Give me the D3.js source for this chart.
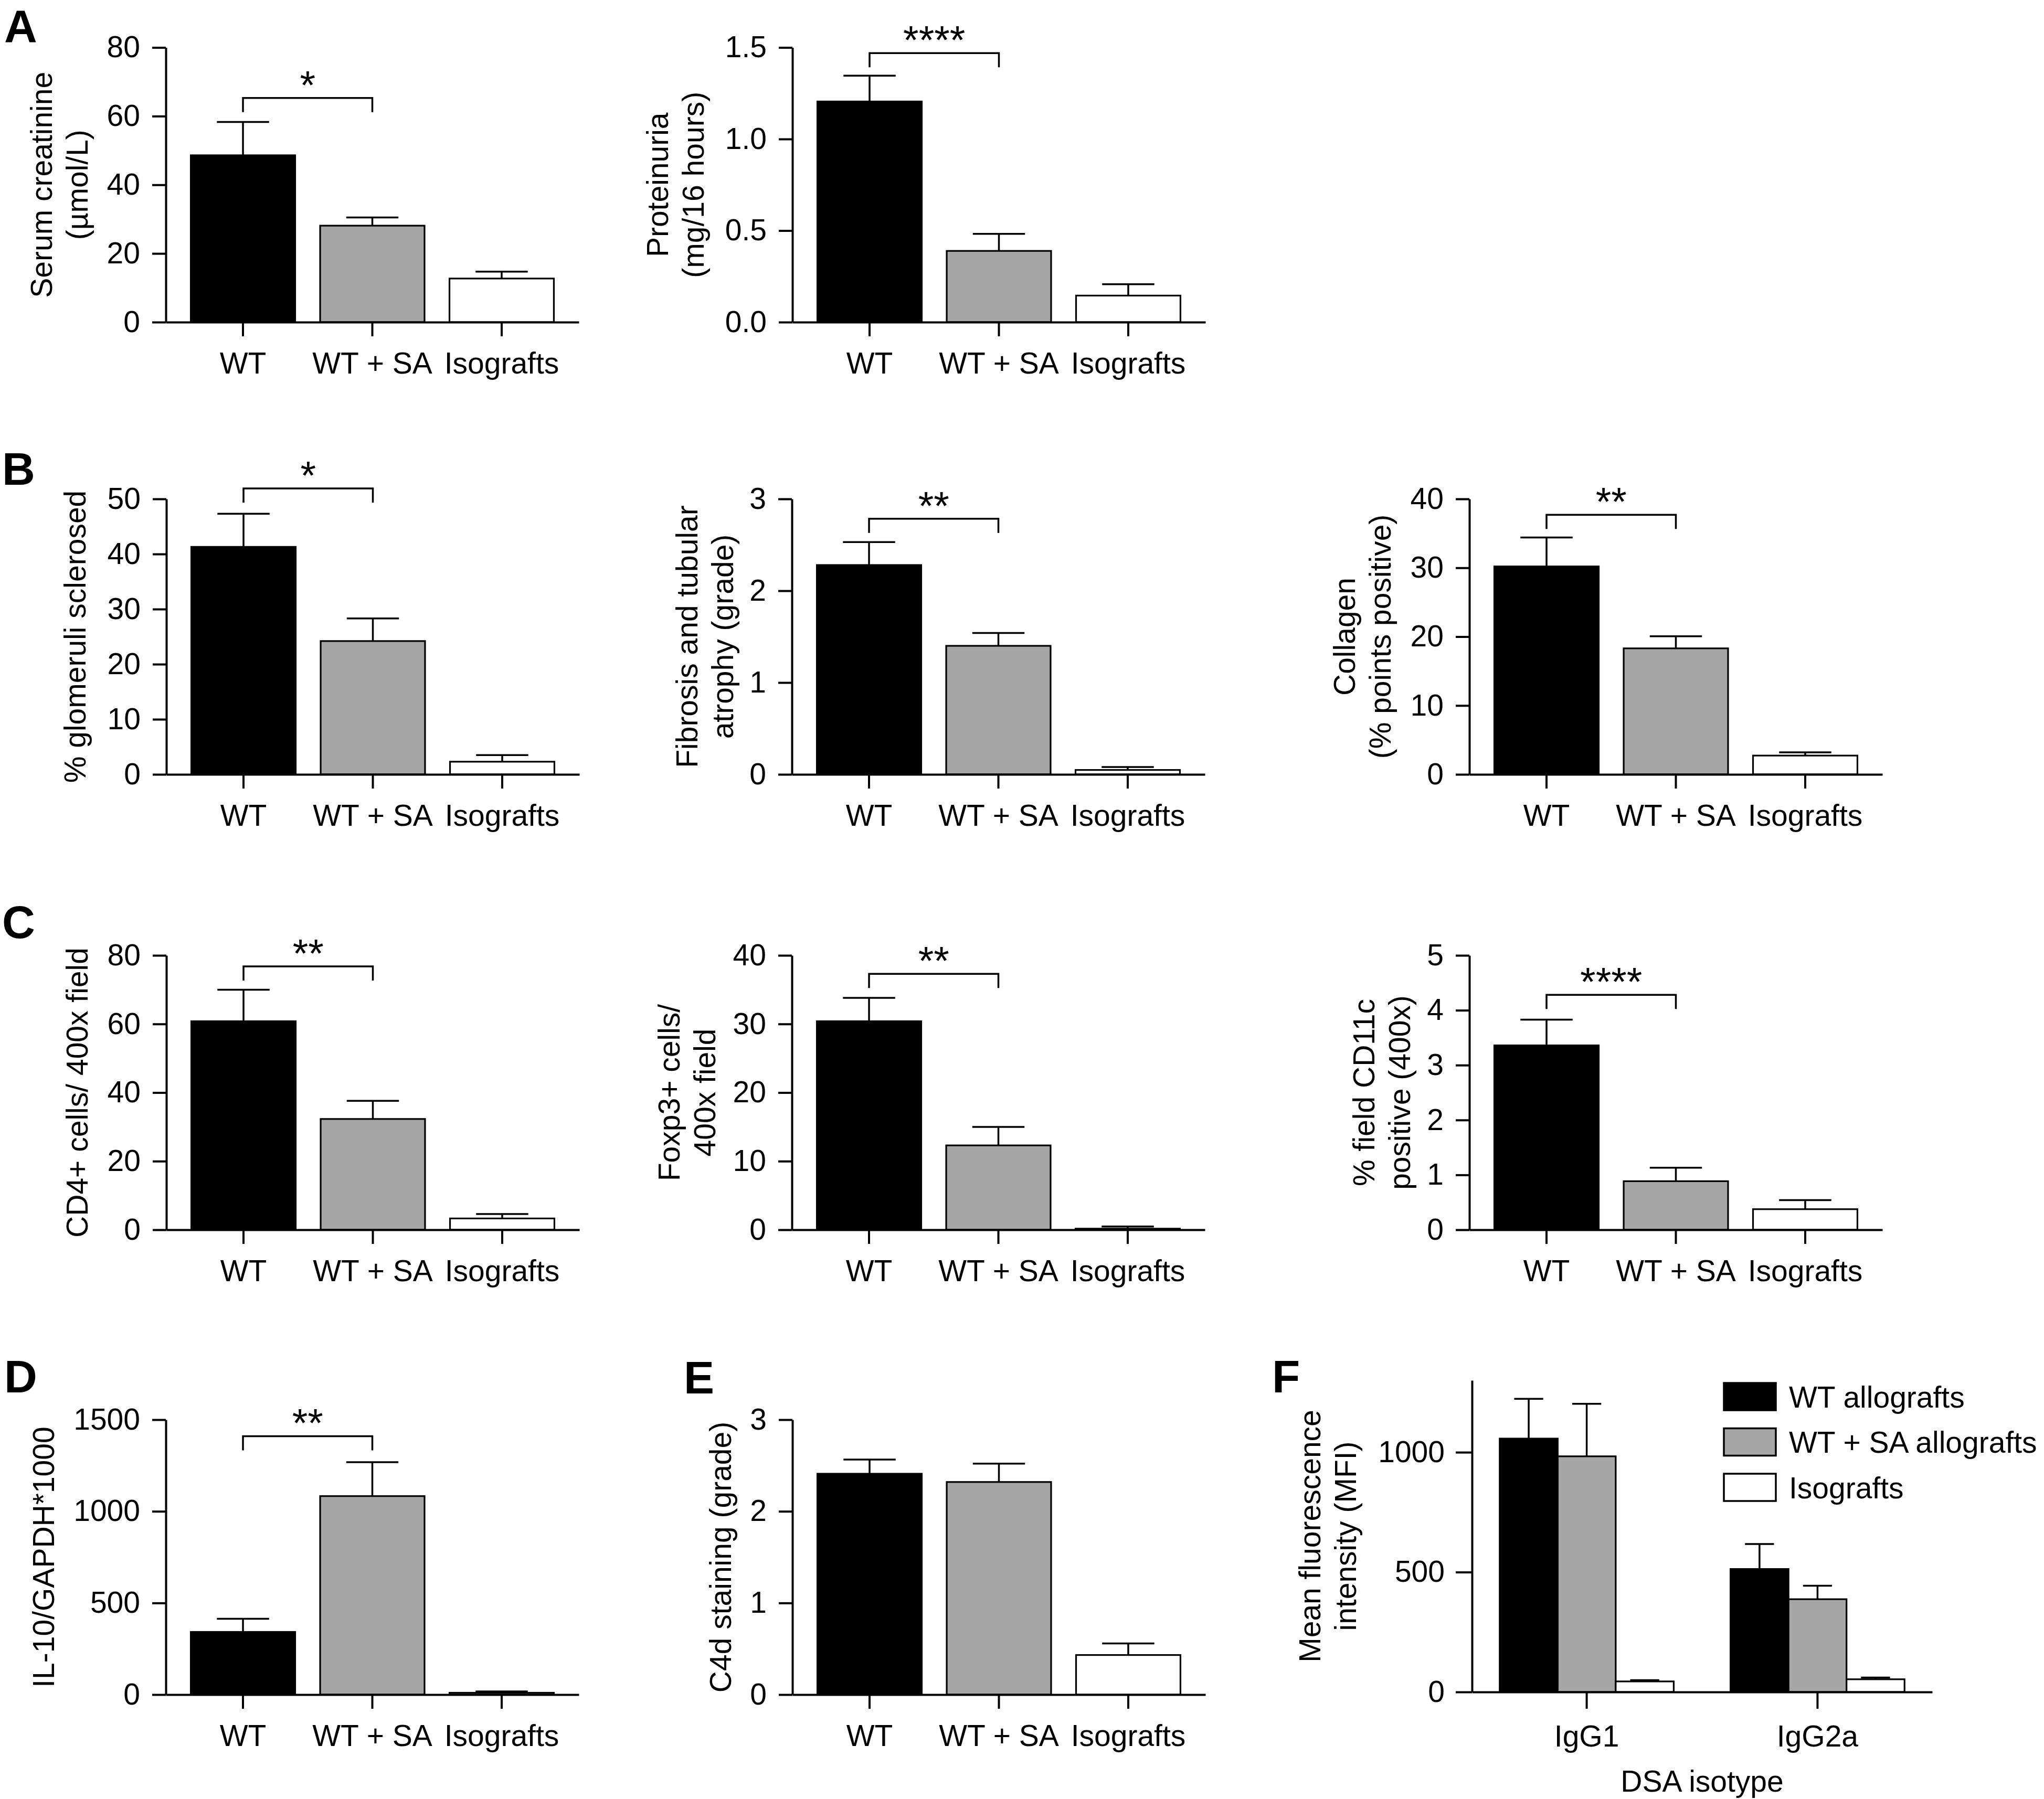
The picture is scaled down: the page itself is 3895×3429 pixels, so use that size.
<!DOCTYPE html>
<html><head><meta charset="utf-8">
<script src="https://cdn.jsdelivr.net/npm/d3@7"></script>
<style>body{margin:0;background:#fff}</style>
</head><body>
<svg id="chart" width="3895" height="3429"></svg>
<script>
// ---------- DATA ----------
const groups = ["WT", "WT + SA", "Isografts"];
const barFills = ["#000000", "#a6a6a6", "#ffffff"];

const creatinine = [48.6, 28.1, 12.7];
const creatinineErr = [9.7, 2.4, 2.0];
const creatinineTicks = [0, 20, 40, 60, 80];

const proteinuria = [1.205, 0.389, 0.145];
const proteinuriaErr = [0.141, 0.093, 0.062];
const proteinuriaTicks = [0, 0.5, 1.0, 1.5];

const sclerosed = [41.3, 24.2, 2.3];
const sclerosedErr = [6.0, 4.1, 1.2];
const sclerosedTicks = [0, 10, 20, 30, 40, 50];

const fibrosis = [2.28, 1.40, 0.048];
const fibrosisErr = [0.25, 0.14, 0.032];
const fibrosisTicks = [0, 1, 2, 3];

const collagen = [30.2, 18.3, 2.73];
const collagenErr = [4.2, 1.75, 0.47];
const collagenTicks = [0, 10, 20, 30, 40];

const cd4 = [60.8, 32.3, 3.3];
const cd4Err = [9.2, 5.3, 1.3];
const cd4Ticks = [0, 20, 40, 60, 80];

const foxp3 = [30.4, 12.3, 0.16];
const foxp3Err = [3.4, 2.7, 0.32];
const foxp3Ticks = [0, 10, 20, 30, 40];

const cd11c = [3.36, 0.885, 0.375];
const cd11cErr = [0.47, 0.245, 0.165];
const cd11cTicks = [0, 1, 2, 3, 4, 5];

const il10 = [342, 1083, 10];
const il10Err = [72, 185, 7];
const il10Ticks = [0, 500, 1000, 1500];

const c4d = [2.41, 2.32, 0.432];
const c4dErr = [0.155, 0.20, 0.126];
const c4dTicks = [0, 1, 2, 3];

// significance brackets (label, level in data units), per panel
const sigLabels = ["*", "****", "*", "**", "**", "**", "**", "****", "**", null];
const sigLevels = [65.3, 1.469, 51.9, 2.784, 37.7, 76.8, 37.3, 4.28, 1410, null];

// Panel F
const isotypes = ["IgG1", "IgG2a"];
const mfiSeries = ["WT allografts", "WT + SA allografts", "Isografts"];
const mfiWT = [1057, 513];
const mfiWTErr = [166, 104];
const mfiWTSA = [983, 387];
const mfiWTSAErr = [219, 56];
const mfiIso = [44, 53];
const mfiIsoErr = [5, 7];
const mfiTicks = [0, 500, 1000];
const mfiMax = 1300;

// ---------- LAYOUT ----------
const FONT = "'Liberation Sans', Arial, Helvetica, sans-serif";
const FS = 57;
const svg = d3.select("#chart").style("font-family", FONT);
svg.append("rect").attr("width", 3895).attr("height", 3429).attr("fill", "#fff");

const fInt = d3.format("d");
const fOne = d3.format(".1f");

const panels = [
  {ax: 316,  top: 90.5, zero: 614,  max: 80,   vals: creatinine,  err: creatinineErr,  ticks: creatinineTicks,  fmt: fInt, title: ["Serum creatinine", "(µmol/L)"], tOff: 149},
  {ax: 1510, top: 90.5, zero: 614,  max: 1.5,  vals: proteinuria, err: proteinuriaErr, ticks: proteinuriaTicks, fmt: fOne, title: ["Proteinuria", "(mg/16 hours)"], tOff: 169},
  {ax: 317,  top: 951,  zero: 1476, max: 50,   vals: sclerosed,   err: sclerosedErr,   ticks: sclerosedTicks,   fmt: fInt, title: ["% glomeruli sclerosed"], tOff: 154},
  {ax: 1509, top: 951,  zero: 1476, max: 3,    vals: fibrosis,    err: fibrosisErr,    ticks: fibrosisTicks,    fmt: fInt, title: ["Fibrosis and tubular", "atrophy (grade)"], tOff: 112},
  {ax: 2800, top: 951,  zero: 1476, max: 40,   vals: collagen,    err: collagenErr,    ticks: collagenTicks,    fmt: fInt, title: ["Collagen", "(% points positive)"], tOff: 150},
  {ax: 317,  top: 1821, zero: 2344, max: 80,   vals: cd4,         err: cd4Err,         ticks: cd4Ticks,         fmt: fInt, title: ["CD4+ cells/ 400x field"], tOff: 150},
  {ax: 1509, top: 1821, zero: 2344, max: 40,   vals: foxp3,       err: foxp3Err,       ticks: foxp3Ticks,       fmt: fInt, title: ["Foxp3+ cells/", "400x field"], tOff: 146},
  {ax: 2800, top: 1821, zero: 2344, max: 5,    vals: cd11c,       err: cd11cErr,       ticks: cd11cTicks,       fmt: fInt, title: ["% field CD11c", "positive (400x)"], tOff: 113},
  {ax: 316,  top: 2706, zero: 3230, max: 1500, vals: il10,        err: il10Err,        ticks: il10Ticks,        fmt: fInt, title: ["IL-10/GAPDH*1000"], tOff: 213},
  {ax: 1510, top: 2706, zero: 3230, max: 3,    vals: c4d,         err: c4dErr,         ticks: c4dTicks,         fmt: fInt, title: ["C4d staining (grade)"], tOff: 117}
];

const letters = [
  {t: "A", x: 8, y: 80}, {t: "B", x: 4, y: 924}, {t: "C", x: 4, y: 1788},
  {t: "D", x: 8, y: 2654}, {t: "E", x: 1303, y: 2656}, {t: "F", x: 2424, y: 2654}
];
letters.forEach(l => svg.append("text").attr("x", l.x).attr("y", l.y)
  .attr("font-size", 87).attr("font-weight", "bold").attr("fill", "#000").text(l.t));

function styleAxis(g, sw) {
  g.attr("font-family", FONT).attr("font-size", FS);
  g.selectAll(".domain").attr("stroke", "#000").attr("stroke-width", sw);
  g.selectAll(".tick line").attr("stroke", "#000").attr("stroke-width", sw);
  g.selectAll(".tick text").attr("fill", "#000");
}

function drawTitle(x, cy, lines) {
  const t = svg.append("text")
    .attr("transform", `translate(${x},${cy}) rotate(-90)`)
    .attr("text-anchor", "middle").attr("font-size", FS).attr("fill", "#000");
  const n = lines.length;
  lines.forEach((s, i) => t.append("tspan").attr("x", 0).attr("y", -(n - 1 - i) * 68).text(s));
}

panels.forEach((p, idx) => {
  const g = svg.append("g");
  const y = d3.scaleLinear().domain([0, p.max]).range([p.zero, p.top]);
  const x = d3.scaleBand().domain(groups).range([p.ax, p.ax + 787]).padding(0.193);
  const bw = x.bandwidth();
  const rows = groups.map((k, i) => ({k, v: p.vals[i], e: p.err[i], fill: barFills[i]}));

  // bars
  g.selectAll("rect.bar").data(rows).join("rect")
    .attr("x", d => x(d.k)).attr("y", d => y(d.v))
    .attr("width", bw).attr("height", d => p.zero - y(d.v))
    .attr("fill", d => d.fill).attr("stroke", "#000").attr("stroke-width", 3.2);

  // error bars (upper only)
  rows.forEach(d => {
    const cx = x(d.k) + bw / 2;
    g.append("line").attr("x1", cx).attr("x2", cx).attr("y1", y(d.v)).attr("y2", y(d.v + d.e))
      .attr("stroke", "#000").attr("stroke-width", 3.5);
    g.append("line").attr("x1", cx - bw / 4).attr("x2", cx + bw / 4).attr("y1", y(d.v + d.e)).attr("y2", y(d.v + d.e))
      .attr("stroke", "#000").attr("stroke-width", 3.5);
  });

  // axes
  const ya = g.append("g").attr("transform", `translate(${p.ax},0)`)
    .call(d3.axisLeft(y).tickValues(p.ticks).tickFormat(p.fmt).tickSize(26).tickPadding(23).tickSizeOuter(0));
  styleAxis(ya, 4);
  const xa = g.append("g").attr("transform", `translate(0,${p.zero})`)
    .call(d3.axisBottom(x).tickSize(27).tickPadding(31).tickSizeOuter(0));
  styleAxis(xa, 4);

  // title
  drawTitle(p.ax - p.tOff, (p.top + p.zero) / 2, p.title);

  // significance bracket
  if (sigLabels[idx]) {
    const x1 = x(groups[0]) + bw / 2, x2 = x(groups[1]) + bw / 2, yy = y(sigLevels[idx]);
    g.append("path").attr("d", `M${x1},${yy + 27}V${yy}H${x2}V${yy + 27}`)
      .attr("fill", "none").attr("stroke", "#000").attr("stroke-width", 3.5);
    g.append("text").attr("x", (x1 + x2) / 2).attr("y", yy + 1).attr("text-anchor", "middle")
      .attr("font-size", 76).attr("fill", "#000").text(sigLabels[idx]);
  }
});

// ---------- Panel F ----------
(function () {
  const ax = 2805, top = 2631, zero = 3225, xEnd = 3682;
  const g = svg.append("g");
  const y = d3.scaleLinear().domain([0, mfiMax]).range([zero, top]);
  const x0 = d3.scaleBand().domain(isotypes).range([ax, xEnd]).paddingInner(0.246).paddingOuter(0.12);
  const x1 = d3.scaleBand().domain(mfiSeries).range([0, x0.bandwidth()]);
  const bw = x1.bandwidth();
  const vals = [mfiWT, mfiWTSA, mfiIso];
  const errs = [mfiWTErr, mfiWTSAErr, mfiIsoErr];
  const rows = [];
  isotypes.forEach((iso, i) => mfiSeries.forEach((s, j) =>
    rows.push({iso, s, v: vals[j][i], e: errs[j][i], fill: barFills[j]})));

  g.selectAll("rect.bar").data(rows).join("rect")
    .attr("x", d => x0(d.iso) + x1(d.s)).attr("y", d => y(d.v))
    .attr("width", bw).attr("height", d => zero - y(d.v))
    .attr("fill", d => d.fill).attr("stroke", "#000").attr("stroke-width", 3.2);

  rows.forEach(d => {
    const cx = x0(d.iso) + x1(d.s) + bw / 2;
    g.append("line").attr("x1", cx).attr("x2", cx).attr("y1", y(d.v)).attr("y2", y(d.v + d.e))
      .attr("stroke", "#000").attr("stroke-width", 3.5);
    g.append("line").attr("x1", cx - bw / 4).attr("x2", cx + bw / 4).attr("y1", y(d.v + d.e)).attr("y2", y(d.v + d.e))
      .attr("stroke", "#000").attr("stroke-width", 3.5);
  });

  const ya = g.append("g").attr("transform", `translate(${ax},0)`)
    .call(d3.axisLeft(y).tickValues(mfiTicks).tickFormat(fInt).tickSize(31).tickPadding(21).tickSizeOuter(0));
  styleAxis(ya, 4);
  const xa = g.append("g").attr("transform", `translate(0,${zero})`)
    .call(d3.axisBottom(x0).tickSize(32).tickPadding(31.5).tickSizeOuter(0));
  styleAxis(xa, 4);

  drawTitle(ax - 221, (top + zero) / 2, ["Mean fluorescence", "intensity (MFI)"]);
  svg.append("text").attr("x", (ax + xEnd) / 2).attr("y", 3415).attr("text-anchor", "middle")
    .attr("font-size", FS).attr("fill", "#000").text("DSA isotype");

  // legend
  const leg = svg.append("g");
  mfiSeries.forEach((s, j) => {
    const cy = 2662 + j * 86.5;
    leg.append("rect").attr("x", 3285).attr("y", cy - 26).attr("width", 99).attr("height", 52)
      .attr("fill", barFills[j]).attr("stroke", "#000").attr("stroke-width", 3.5);
    leg.append("text").attr("x", 3409).attr("y", cy + 20.5).attr("font-size", FS).attr("fill", "#000").text(s);
  });
})();
</script>
</body></html>
